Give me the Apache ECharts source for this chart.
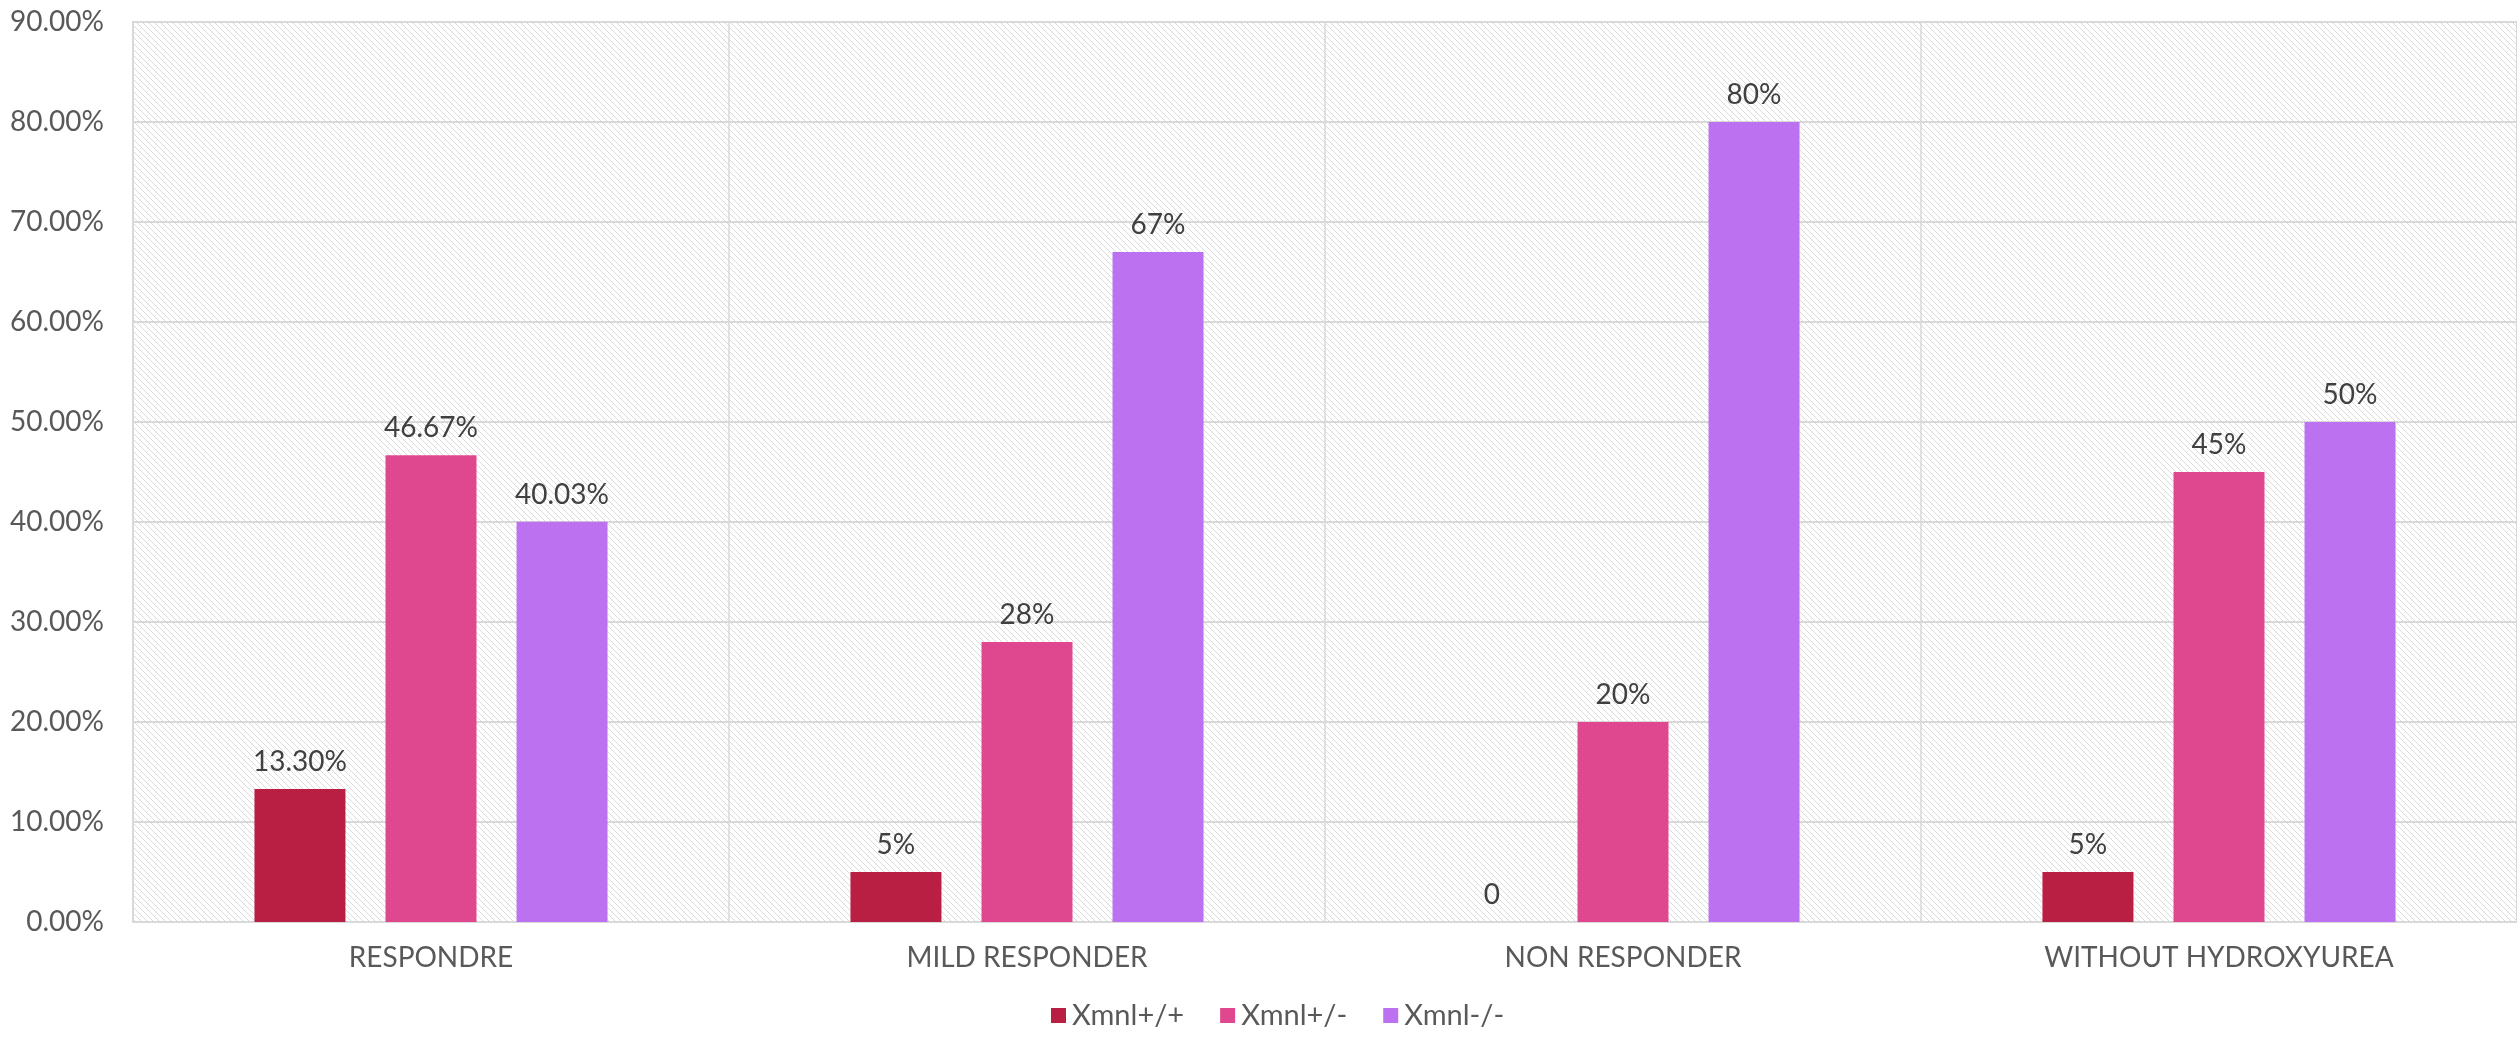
<!DOCTYPE html>
<html>
<head>
<meta charset="utf-8">
<script src="https://cdn.jsdelivr.net/npm/echarts@6/dist/echarts.min.js"></script>
<style>
html,body{margin:0;padding:0;background:#fff;}
#c{width:2517px;height:1037px;}
</style>
</head>
<body>
<div id="c"></div>
<script>
const categories = ['RESPONDRE', 'MILD RESPONDER', 'NON RESPONDER', 'WITHOUT HYDROXYUREA'];
const seriesNames = ['Xmnl+/+', 'Xmnl+/-', 'Xmnl-/-'];
const homoPlus = [13.30, 5, 0, 5];
const hetero = [46.67, 28, 20, 45];
const homoMinus = [40.03, 67, 80, 50];
const homoPlusLabels = ['13.30%', '5%', '0', '5%'];
const heteroLabels = ['46.67%', '28%', '20%', '45%'];
const homoMinusLabels = ['40.03%', '67%', '80%', '50%'];
const yTicks = [0, 10, 20, 30, 40, 50, 60, 70, 80, 90];

const colors = ['#B91F43', '#DF488E', '#BC72F0'];
const FONT = 'Lato, "Open Sans", sans-serif';

// hatch pattern
const tile = document.createElement('canvas');
tile.width = 6; tile.height = 6;
const tc = tile.getContext('2d');
tc.fillStyle = '#ffffff';
tc.fillRect(0, 0, 6, 6);
tc.strokeStyle = '#dadada';
tc.lineWidth = 1;
tc.beginPath();
tc.moveTo(-1, -1); tc.lineTo(7, 7);
tc.moveTo(-4, 2); tc.lineTo(4, 10);
tc.moveTo(2, -4); tc.lineTo(10, 4);
tc.stroke();

const chart = echarts.init(document.getElementById('c'), null, {renderer: 'canvas'});

function mk(name, data, labels, color) {
  return {
    name: name,
    type: 'bar',
    data: data,
    barWidth: 91,
    barGap: '44%',
    itemStyle: {color: color},
    label: {
      show: true,
      position: 'top',
      distance: 13,
      fontFamily: FONT,
      fontSize: 28,
      color: '#404040',
      formatter: p => labels[p.dataIndex]
    }
  };
}

chart.setOption({
  animation: false,
  backgroundColor: '#ffffff',
  grid: {
    left: 133, right: -10, top: 22, bottom: 115,
    show: true,
    backgroundColor: {image: tile, repeat: 'repeat'},
    borderColor: '#d9d9d9',
    borderWidth: 2
  },
  legend: {
    data: seriesNames,
    bottom: 2,
    left: 1046,
    itemWidth: 15,
    itemHeight: 15,
    itemGap: 36,
    icon: 'rect',
    textStyle: {fontFamily: FONT, fontSize: 29, color: '#595959', padding: [0, 0, 0, 1]}
  },
  xAxis: {
    type: 'category',
    data: categories,
    axisLine: {show: true, lineStyle: {color: '#d9d9d9', width: 2}},
    axisTick: {show: false},
    splitLine: {show: true, lineStyle: {color: '#d9d9d9', width: 1.5}},
    axisLabel: {fontFamily: FONT, fontSize: 28, color: '#595959', margin: 22}
  },
  yAxis: {
    type: 'value',
    min: yTicks[0],
    max: yTicks[yTicks.length - 1],
    interval: 10,
    axisLine: {show: false},
    axisTick: {show: false},
    splitLine: {show: true, lineStyle: {color: '#d9d9d9', width: 2}},
    axisLabel: {
      fontFamily: FONT, fontSize: 28, color: '#595959', margin: 29,
      formatter: v => v.toFixed(2) + '%'
    }
  },
  series: [
    mk(seriesNames[0], homoPlus, homoPlusLabels, colors[0]),
    mk(seriesNames[1], hetero, heteroLabels, colors[1]),
    mk(seriesNames[2], homoMinus, homoMinusLabels, colors[2])
  ]
});
</script>
</body>
</html>
